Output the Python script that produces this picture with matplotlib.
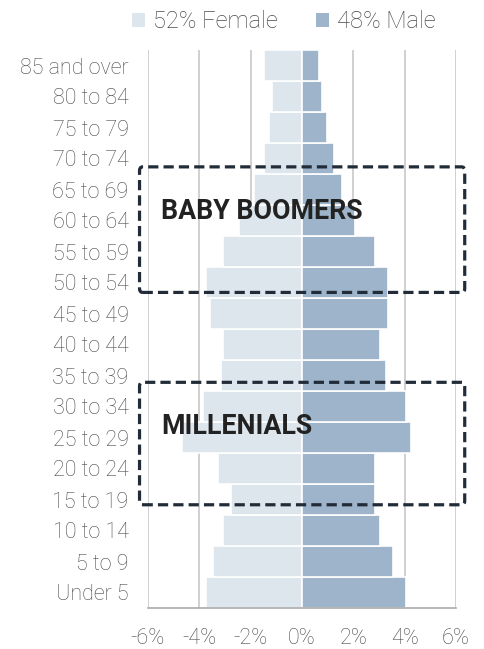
import matplotlib
matplotlib.use("Agg")
import matplotlib.pyplot as plt
from matplotlib.patches import FancyBboxPatch, Patch
from matplotlib.ticker import FuncFormatter

age_groups = ["Under 5", "5 to 9", "10 to 14", "15 to 19", "20 to 24", "25 to 29",
              "30 to 34", "35 to 39", "40 to 44", "45 to 49", "50 to 54", "55 to 59",
              "60 to 64", "65 to 69", "70 to 74", "75 to 79", "80 to 84", "85 and over"]
female = [3.75, 3.47, 3.06, 2.77, 3.26, 4.66, 3.87, 3.17, 3.06, 3.57, 3.75, 3.06,
          2.47, 1.87, 1.48, 1.27, 1.18, 1.48]
male = [4.07, 3.56, 3.05, 2.86, 2.86, 4.26, 4.07, 3.26, 3.05, 3.35, 3.35, 2.86,
        2.05, 1.56, 1.26, 0.96, 0.77, 0.66]
legend_labels = ["52% Female", "48% Male"]
xticks = [-6, -4, -2, 0, 2, 4, 6]
groups = [("BABY BOOMERS", 9.68, 13.73, 12.28), ("MILLENIALS", 2.83, 6.78, 5.35)]

FEMALE_C = "#dde5ed"
MALE_C = "#9db4ca"
TXT = "#4a4a4a"
BOX_C = "#222b38"

plt.rcParams['font.family'] = ['Roboto', 'DejaVu Sans']

fig = plt.figure(figsize=(4.84, 6.49), dpi=100)
ax = fig.add_axes([148/484, 1-608/649, (456-148)/484, (608-50)/649])

y = list(range(len(age_groups)))
ax.barh(y, [-v for v in female], height=1.0, color=FEMALE_C, edgecolor="white", linewidth=1.2, zorder=2)
ax.barh(y, male, height=1.0, color=MALE_C, edgecolor="white", linewidth=1.2, zorder=2)

ax.set_xlim(-6, 6)
ax.set_ylim(-0.5, len(age_groups) - 0.5)
ax.set_xticks(xticks)
ax.xaxis.set_major_formatter(FuncFormatter(lambda v, p: f"{int(round(v))}%"))
ax.set_yticks(y)
ax.set_yticklabels(age_groups)
ax.grid(axis="x", color="#c8c8c8", linewidth=1.2, zorder=0)
ax.set_axisbelow(True)
for s in ["top", "right", "left"]:
    ax.spines[s].set_visible(False)
ax.spines["bottom"].set_color("#aaaaaa")
ax.spines["bottom"].set_linewidth(1.2)
ax.tick_params(axis="both", length=0, colors=TXT, labelsize=15.5)
ax.tick_params(axis="y", pad=14)
ax.tick_params(axis="x", pad=14.5)
for lab in ax.get_xticklabels() + ax.get_yticklabels():
    lab.set_fontweight("light")

for name, y0, y1, ty in groups:
    box = FancyBboxPatch((-6.33, y0), 12.67, y1 - y0,
                         boxstyle="round,pad=0,rounding_size=0.12",
                         fill=False, edgecolor=BOX_C, linewidth=2.3,
                         linestyle=(0, (3.2, 1.6)), clip_on=False, zorder=5)
    ax.add_patch(box)
    ax.text(-5.5, ty, name, fontsize=19.3, fontweight="bold", color="#222222",
            va="center", ha="left", zorder=6)

handles = [Patch(facecolor=FEMALE_C, edgecolor="none"), Patch(facecolor=MALE_C, edgecolor="none")]
leg = fig.legend(handles, legend_labels, loc="center", bbox_to_anchor=(284/484, 1-22/649),
                 ncol=2, frameon=False, fontsize=17, handlelength=0.55, handleheight=0.55,
                 handletextpad=0.35, columnspacing=1.6, borderpad=0)
for t in leg.get_texts():
    t.set_color(TXT)
    t.set_fontweight("light")

fig.savefig("out.png", dpi=100)
